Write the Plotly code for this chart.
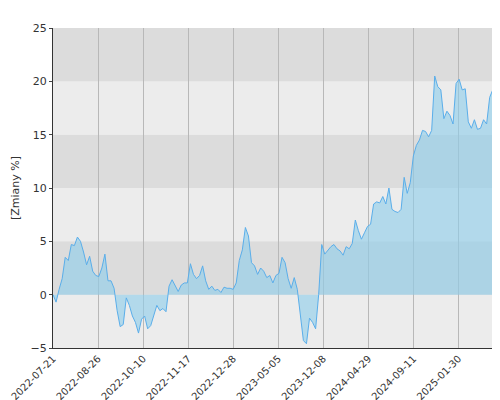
import plotly.graph_objects as go

values = [0, -0.7, 0.5, 1.5, 3.5, 3.2, 4.7, 4.6, 5.4, 5.0, 4.0, 2.8, 3.6, 2.2, 1.8, 1.7, 2.5, 3.8, 1.3, 1.3,
          0.6, -1.5, -3.0, -2.8, -0.3, -1.0, -2.0, -2.6, -3.6, -2.3, -2.0, -3.2, -2.9, -2.0, -1.0, -1.5, -1.3, -1.6, 0.8, 1.4,
          0.8, 0.3, 0.9, 1.1, 1.1, 2.9, 1.9, 1.5, 1.8, 2.7, 1.3, 0.5, 0.8, 0.4, 0.5, 0.2, 0.7, 0.6, 0.6, 0.5,
          1.1, 3.2, 4.2, 6.3, 5.5, 3.0, 2.7, 1.9, 2.5, 2.2, 1.6, 1.8, 1.1, 1.8, 2.0, 3.5, 3.0, 1.5, 0.6, 1.6,
          0.5, -2.0, -4.3, -4.6, -2.2, -2.6, -3.2, 0.0, 4.7, 3.8, 4.2, 4.5, 4.7, 4.3, 4.1, 3.7, 4.5, 4.3, 4.8, 7.0,
          6.0, 5.2, 5.8, 6.4, 6.6, 8.5, 8.7, 8.6, 9.2, 8.5, 10.0, 8.0, 7.8, 7.7, 8.0, 11.0, 9.5, 10.5, 13.0, 14.0,
          14.5, 15.4, 15.3, 14.8, 15.4, 20.5, 19.5, 19.2, 16.5, 17.2, 16.8, 16.0, 19.8, 20.2, 19.2, 19.3, 16.2, 15.6, 16.4, 15.5,
          15.6, 16.4, 16.0, 18.5, 19.2, 19.4, 23.3, 23.0, 23.0, 24.0]
tick_labels = ["2022-07-21", "2022-08-26", "2022-10-10", "2022-11-17", "2022-12-28", "2023-05-05",
               "2023-12-08", "2024-04-29", "2024-09-11", "2025-01-30", "2025-07-07"]

n = len(values)
x = list(range(n))
step = (n - 1) / 10.1
tickvals = [step * k for k in range(len(tick_labels))]

fig = go.Figure()
fig.add_trace(go.Scatter(x=x, y=values, mode="lines", fill="tozeroy",
                         line=dict(color="#5aaeea", width=1),
                         fillcolor="rgba(140,205,235,0.6)"))

# alternating horizontal bands
for i, lo in enumerate(range(-5, 25, 5)):
    fig.add_hrect(y0=lo, y1=lo + 5, fillcolor="#dcdcdc" if i % 2 else "#ececec",
                  line_width=0, layer="below")

fig.update_layout(
    width=500, height=400, showlegend=False,
    margin=dict(l=45, r=0, t=20, b=60),
    paper_bgcolor="white", plot_bgcolor="#ececec",
    font=dict(family="DejaVu Sans", size=11, color="#333"),
    xaxis=dict(range=[0, n - 1], tickvals=tickvals, ticktext=tick_labels, tickangle=-45,
               showgrid=True, gridcolor="#b8b8b8", gridwidth=1, zeroline=False, automargin=False,
               showline=True, linecolor="#333", ticks="", tickfont=dict(size=10)),
    yaxis=dict(range=[-5, 25], dtick=5, showgrid=False, zeroline=False, automargin=False,
               title=dict(text="[Zmiany %]", font=dict(size=11), standoff=8),
               showline=True, linecolor="#333", ticks="outside", ticklen=3),
)
fig.write_html("out.html")
